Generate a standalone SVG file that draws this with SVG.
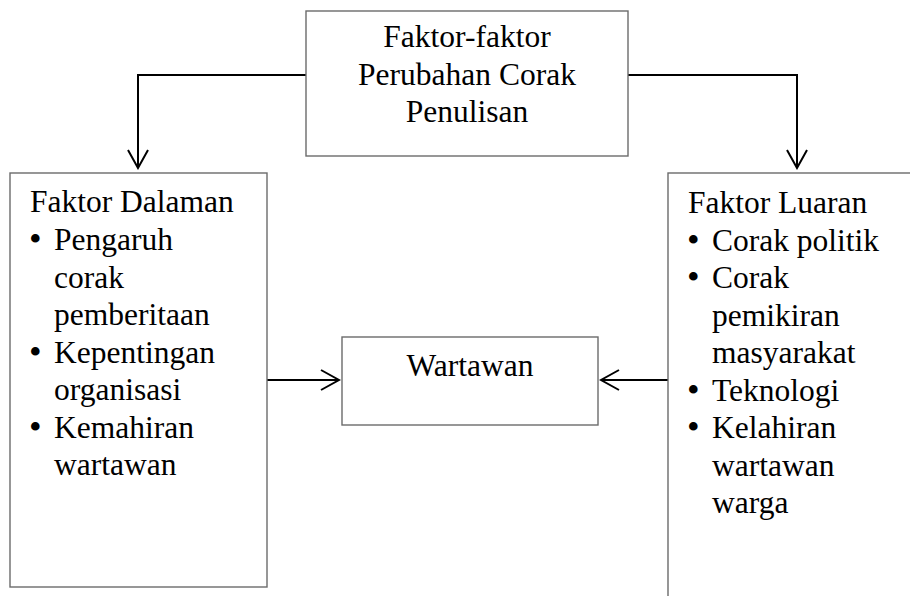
<svg xmlns="http://www.w3.org/2000/svg" width="910" height="596" viewBox="0 0 910 596">
<style>
.box{fill:#fff;stroke:#6b6b6b;stroke-width:1.4}
text{font-family:'Liberation Serif','DejaVu Serif',serif;font-size:31.5px;fill:#000}
.c{text-anchor:middle}
.b{font-size:36px}
.con{fill:none;stroke:#000;stroke-width:2}
</style>
<defs>
<marker id="arr" viewBox="0 0 22 22" refX="20" refY="11" markerWidth="22" markerHeight="22" markerUnits="userSpaceOnUse" orient="auto">
<path d="M2,1 L20,11 L2,21" fill="none" stroke="#000" stroke-width="2"/>
</marker>
</defs>
<rect width="910" height="596" fill="#fff"/>
<g id="connectors">
<path class="con" d="M306,75 H138 V168" marker-end="url(#arr)"/>
<path class="con" d="M628,75 H797 V168" marker-end="url(#arr)"/>
<path class="con" d="M267,380 H339" marker-end="url(#arr)"/>
<path class="con" d="M668,380 H601" marker-end="url(#arr)"/>
</g>
<g id="top" font-family="Liberation Serif, serif">
<rect class="box" x="306" y="11" width="322" height="145"/>
<text class="c" x="467" y="47">Faktor-faktor</text>
<text class="c" x="467" y="84.5">Perubahan Corak</text>
<text class="c" x="467" y="122">Penulisan</text>
</g>
<g id="dalaman">
<rect class="box" x="10" y="173" width="257" height="414"/>
<text x="30" y="212">Faktor Dalaman</text>
<text class="b" x="29" y="251">•</text><text x="54" y="250">Pengaruh</text>
<text x="54" y="287.5">corak</text>
<text x="54" y="325">pemberitaan</text>
<text class="b" x="29" y="363.5">•</text><text x="54" y="362.5">Kepentingan</text>
<text x="54" y="400">organisasi</text>
<text class="b" x="29" y="438.5">•</text><text x="54" y="437.5">Kemahiran</text>
<text x="54" y="475">wartawan</text>
</g>
<g id="wartawan">
<rect class="box" x="342" y="337" width="256" height="88"/>
<text class="c" x="470" y="376">Wartawan</text>
</g>
<g id="luaran">
<rect class="box" x="668" y="173" width="260" height="450"/>
<text x="688" y="213">Faktor Luaran</text>
<text class="b" x="687" y="251.5">•</text><text x="712" y="250.5">Corak politik</text>
<text class="b" x="687" y="289">•</text><text x="712" y="288">Corak</text>
<text x="712" y="325.5">pemikiran</text>
<text x="712" y="363">masyarakat</text>
<text class="b" x="687" y="401.5">•</text><text x="712" y="400.5">Teknologi</text>
<text class="b" x="687" y="439">•</text><text x="712" y="438">Kelahiran</text>
<text x="712" y="475.5">wartawan</text>
<text x="712" y="513">warga</text>
</g>
</svg>
